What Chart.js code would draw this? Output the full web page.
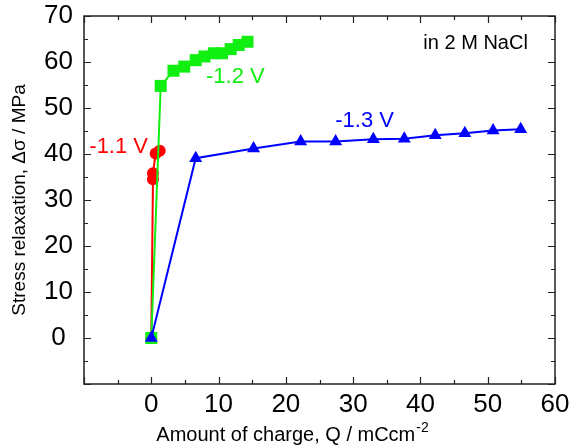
<!DOCTYPE html>
<html>
<head>
<meta charset="utf-8">
<script src="https://cdn.jsdelivr.net/npm/chart.js@4"></script>
<style>
  html,body{margin:0;padding:0;background:#fff;}
  #wrap{width:573px;height:448px;position:relative;}
</style>
</head>
<body>
<div id="wrap"><canvas id="stress" width="573" height="448"></canvas></div>
<script>
// charge Q (mC/cm2) and stress relaxation (MPa)
const redQ   = [0, 0.25, 0.25, 0.65, 1.25];
const redS   = [0, 34.5, 35.8, 40.1, 40.7];
const greenQ = [0, 1.4, 3.3, 4.9, 6.6, 7.9, 9.3, 10.5, 11.8, 13.0, 14.3];
const greenS = [0, 54.8, 58.1, 59.0, 60.4, 61.2, 61.9, 61.9, 62.8, 63.7, 64.4];
const blueQ  = [0, 6.6, 15.2, 22.2, 27.4, 33.0, 37.6, 42.2, 46.6, 50.8, 54.9];
const blueS  = [0, 39.1, 41.2, 42.7, 42.7, 43.2, 43.3, 44.1, 44.5, 45.1, 45.4];

const xMin = -10, xMax = 60, xStep = 10;
const yMin = -10, yMax = 70, yStep = 10;

// text notes placed in data coordinates
const noteText  = ['-1.1 V', '-1.2 V', '-1.3 V', 'in 2 M NaCl'];
const noteQ     = [-4.85, 12.5, 31.7, 48.2];
const noteS     = [41.5, 56.7, 47.2, 64.1];
const noteColor = ['#ff0000', '#11ee11', '#0000ff', '#000000'];
const noteSize  = [22, 22, 22, 20];

const FONT = "'Liberation Sans', Arial, sans-serif";
const pts = (qs, ss) => qs.map((q, i) => ({x: q, y: ss[i]}));

// box + inward ticks on all four sides, notes, x title with superscript
const frame = {
  id: 'frame',
  afterDraw(chart){
    const {ctx, chartArea: a, scales: {x, y}} = chart;
    ctx.save();
    ctx.strokeStyle = '#222';
    ctx.lineWidth = 1.5;
    ctx.strokeRect(a.left, a.top, a.right - a.left, a.bottom - a.top);
    ctx.lineWidth = 1.2;
    ctx.beginPath();
    for(let v = xMin; v <= xMax; v += xStep/2){
      const px = Math.round(x.getPixelForValue(v)) + 0.5;
      const len = (v % xStep === 0) ? 7 : 4;
      ctx.moveTo(px, a.bottom); ctx.lineTo(px, a.bottom - len);
      ctx.moveTo(px, a.top);    ctx.lineTo(px, a.top + len);
    }
    for(let v = yMin; v <= yMax; v += yStep/2){
      const py = Math.round(y.getPixelForValue(v)) + 0.5;
      const len = (v % yStep === 0) ? 7 : 4;
      ctx.moveTo(a.left, py);  ctx.lineTo(a.left + len, py);
      ctx.moveTo(a.right, py); ctx.lineTo(a.right - len, py);
    }
    ctx.stroke();

    ctx.textAlign = 'center';
    ctx.textBaseline = 'middle';
    noteText.forEach((t, i) => {
      ctx.font = noteSize[i] + 'px ' + FONT;
      ctx.fillStyle = noteColor[i];
      ctx.fillText(t, x.getPixelForValue(noteQ[i]), y.getPixelForValue(noteS[i]));
    });

    // x axis title
    const main = 'Amount of charge, Q / mCcm';
    const sup = '-2';
    ctx.fillStyle = '#000';
    ctx.font = '20px ' + FONT;
    const w1 = ctx.measureText(main).width;
    ctx.font = '14px ' + FONT;
    const w2 = ctx.measureText(sup).width;
    const left = 292 - (w1 + w2)/2;
    ctx.textAlign = 'left';
    ctx.textBaseline = 'alphabetic';
    ctx.font = '20px ' + FONT;
    ctx.fillText(main, left, 441);
    ctx.font = '14px ' + FONT;
    ctx.fillText(sup, left + w1 + 1, 432);
    ctx.restore();
  }
};

new Chart(document.getElementById('stress').getContext('2d'), {
  type: 'scatter',
  data: {
    datasets: [
      { label: '-1.3 V', data: pts(blueQ, blueS), showLine: true, order: 1,
        borderColor: '#0000ff', backgroundColor: '#0000ff', borderWidth: 2,
        pointStyle: 'triangle', pointRadius: 7.5, pointBorderWidth: 0 },
      { label: '-1.2 V', data: pts(greenQ, greenS), showLine: true, order: 2,
        borderColor: '#11ee11', backgroundColor: '#11ee11', borderWidth: 2,
        pointStyle: 'rect', pointRadius: 8.5, pointBorderWidth: 0 },
      { label: '-1.1 V', data: pts(redQ, redS), showLine: true, order: 3,
        borderColor: '#ff0000', backgroundColor: '#ff0000', borderWidth: 2,
        pointStyle: 'circle', pointRadius: 6, pointBorderWidth: 0 }
    ]
  },
  options: {
    responsive: false,
    animation: false,
    layout: { autoPadding: false, padding: { top: 16, right: 18, left: 0, bottom: 0 } },
    plugins: { legend: { display: false }, tooltip: { enabled: false } },
    scales: {
      x: {
        type: 'linear', min: xMin, max: xMax,
        grid: { display: false, drawTicks: false }, border: { display: false },
        ticks: { stepSize: xStep, padding: 5, color: '#000', font: { family: FONT, size: 26 },
                 callback: v => v < 0 ? '' : v },
        afterFit: s => { s.height = 64; s.paddingLeft = 0; s.paddingRight = 0; }
      },
      y: {
        type: 'linear', min: yMin, max: yMax,
        grid: { display: false, drawTicks: false }, border: { display: false },
        ticks: { stepSize: yStep, padding: 11, crossAlign: 'center', color: '#000',
                 font: { family: FONT, size: 26 }, callback: v => v < 0 ? '' : v },
        title: { display: true, text: 'Stress relaxation, \u0394\u03c3 / MPa', color: '#000',
                 font: { family: FONT, size: 19 }, padding: { top: 8, bottom: 0 } },
        afterFit: s => { s.width = 84; s.paddingTop = 0; s.paddingBottom = 0; }
      }
    }
  },
  plugins: [frame]
});
</script>
</body>
</html>
